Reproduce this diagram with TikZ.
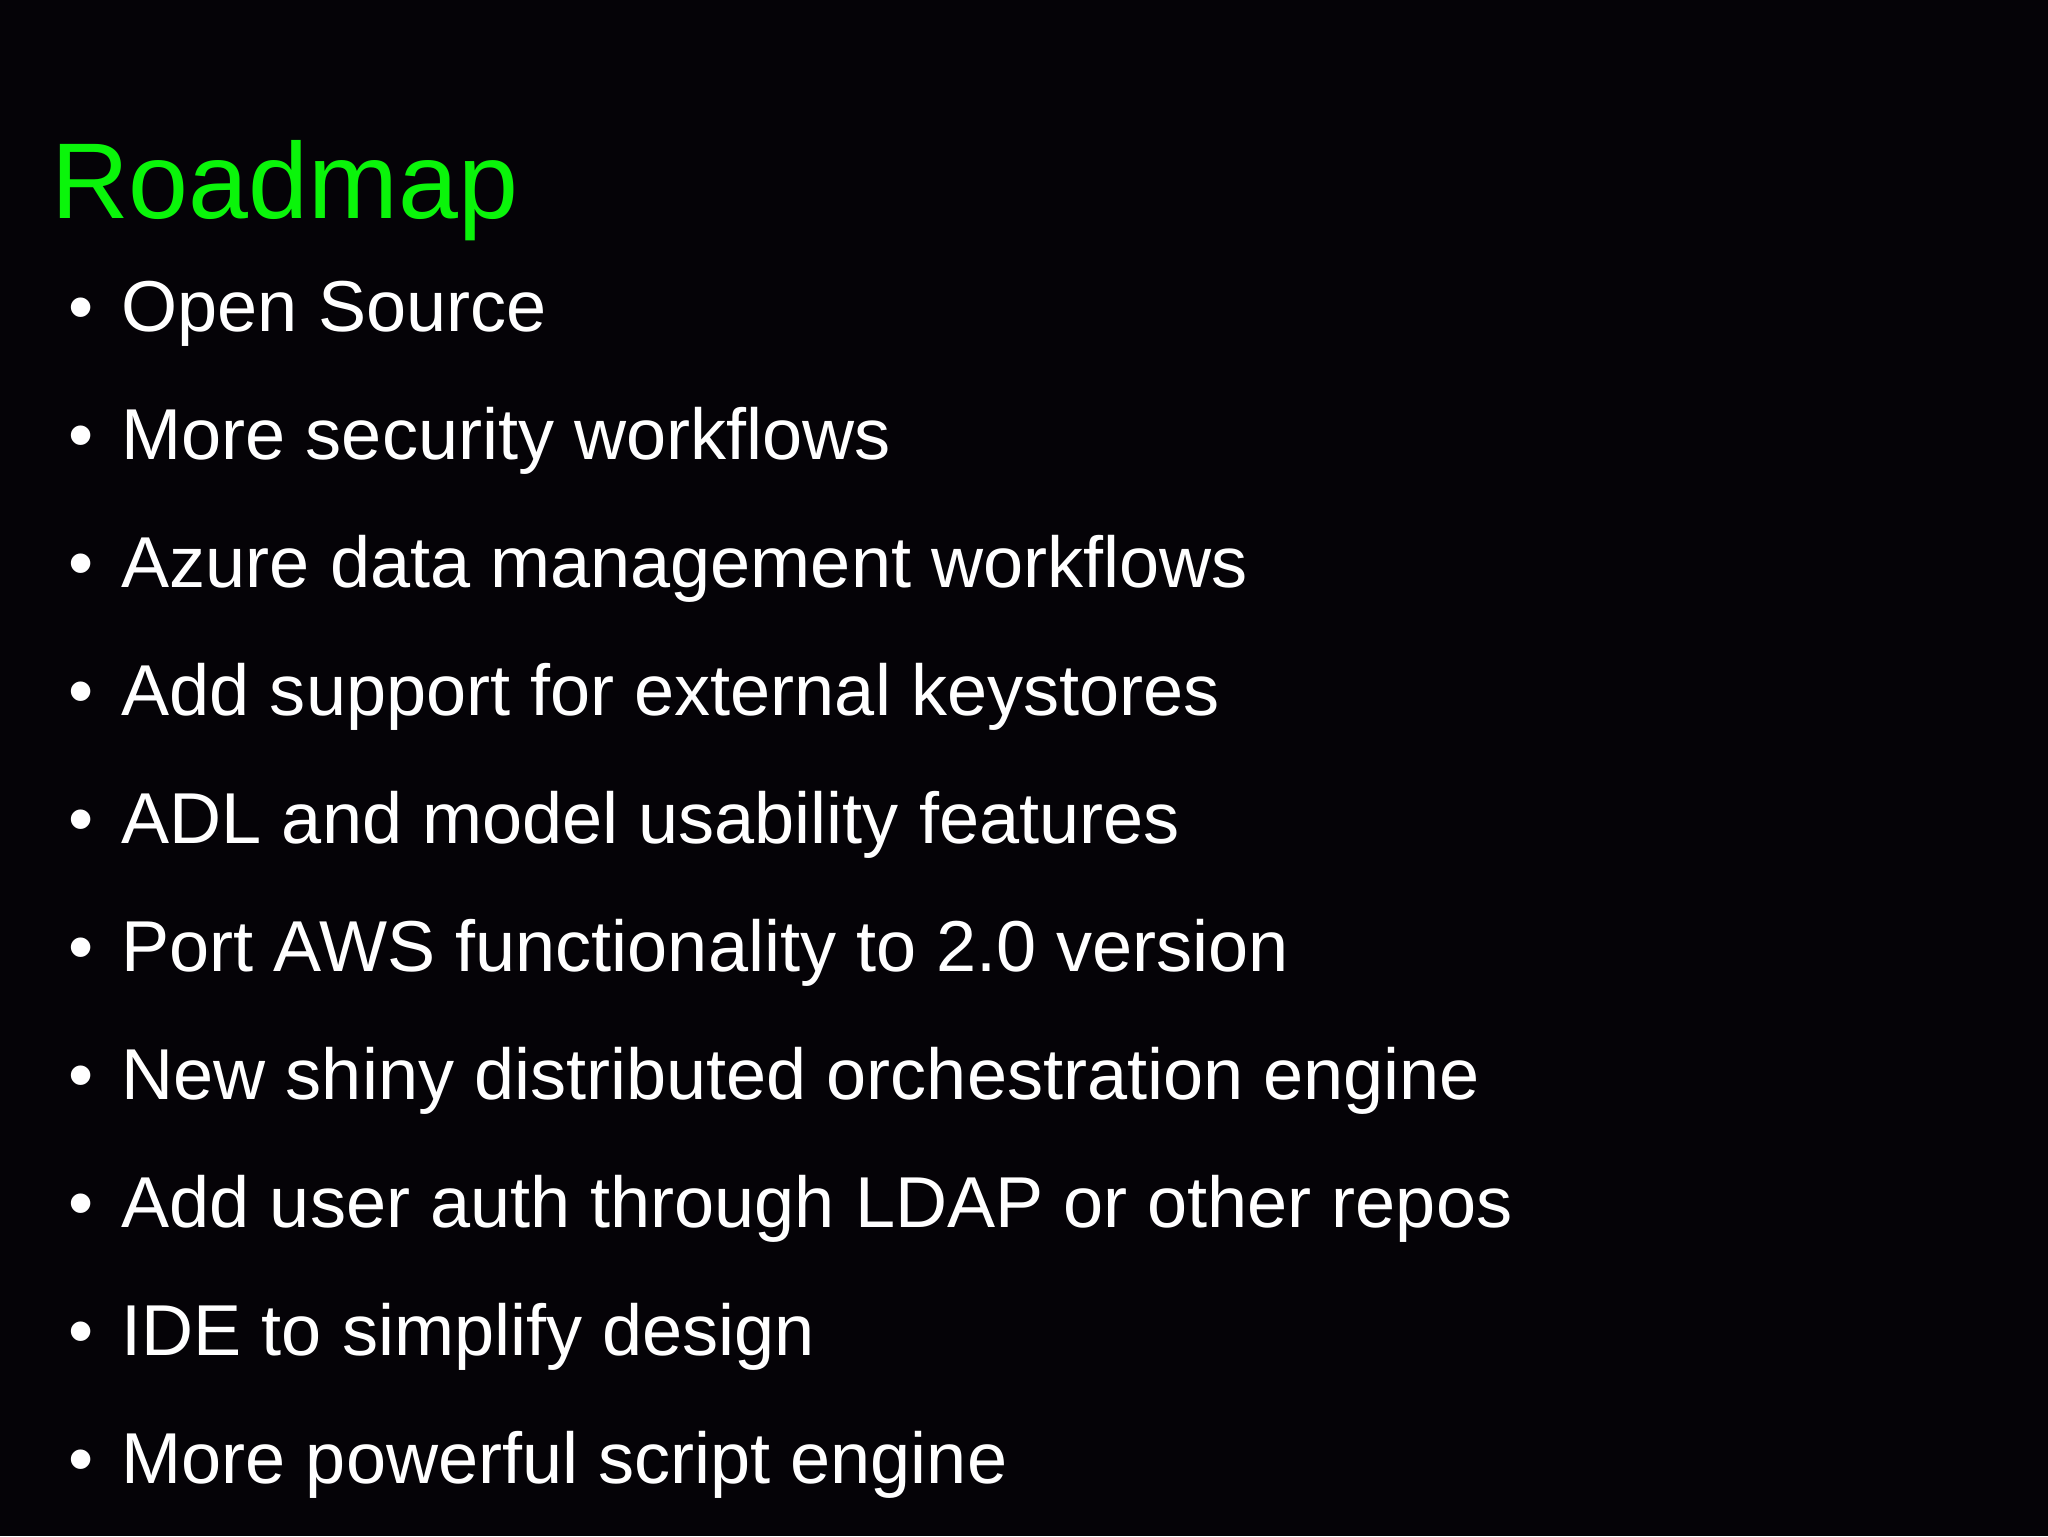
\documentclass[tikz,border=0pt]{standalone}
\usepackage{fontspec}
\setmainfont{Liberation Sans}
\definecolor{bg}{RGB}{5,3,7}
\definecolor{ttl}{RGB}{10,245,10}
\begin{document}
\begin{tikzpicture}[x=1pt,y=-1pt,
  item/.style={anchor=base west,inner sep=0pt,text=white,font=\fontsize{55.2}{60}\selectfont},
  dot/.style={anchor=base west,inner sep=0pt,text=white,font=\fontsize{55}{60}\selectfont}]
\fill[bg] (0,0) rectangle (1568,1176);
\useasboundingbox (0,0) rectangle (1568,1176);
\node[anchor=base west,inner sep=0pt,text=ttl,font=\fontsize{82.5}{90}\selectfont] (title) at (39,167) {Roadmap};
\foreach \t [count=\i] in {Open Source,More security workflows,Azure data management workflows,Add support for external keystores,ADL and model usability features,Port AWS functionality to 2.0 version,New shiny distributed orchestration engine,Add user auth through LDAP or other repos,IDE to simplify design,More powerful script engine}{
  \node[dot] (b\i) at (52,{254+98*(\i-1)}) {\textbullet};
  \node[item] (t\i) at (93,{254+98*(\i-1)}) {\t};
}
\end{tikzpicture}
\end{document}
